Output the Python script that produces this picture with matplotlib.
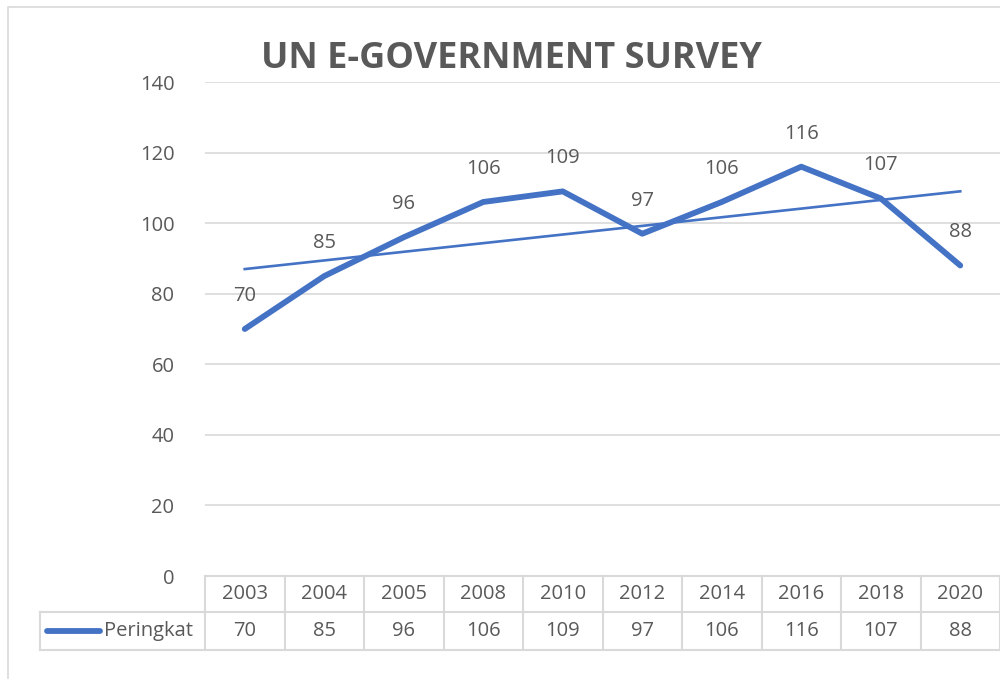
import matplotlib
matplotlib.use("Agg")
import matplotlib.pyplot as plt
import matplotlib.transforms as mtransforms
from matplotlib.patches import Rectangle
from matplotlib.lines import Line2D
import numpy as np

years = ["2003", "2004", "2005", "2008", "2010", "2012", "2014", "2016", "2018", "2020"]
peringkat = [70, 85, 96, 106, 109, 97, 106, 116, 107, 88]
series_name = "Peringkat"
title = "UN E-GOVERNMENT SURVEY"
yticks = [0, 20, 40, 60, 80, 100, 120, 140]

BLUE = "#4472C4"
TXT = "#595959"
GRID = "#D9D9D9"
FS = 14.5

plt.rcParams['font.family'] = ['Open Sans', 'DejaVu Sans']

W, H = 1000, 679
fig = plt.figure(figsize=(W / 100, H / 100), dpi=100)

def fx(px):
    return px / W

def fy(py):
    return 1 - py / H

# chart outer border
fig.patches.append(Rectangle((fx(8), fy(700)), fx(1100) - fx(8), fy(7) - fy(700),
                             transform=fig.transFigure, fill=False, edgecolor=GRID, lw=1.2))

left, right, top, bottom = 205, 1000, 82, 576
ax = fig.add_axes([fx(left), fy(bottom), fx(right) - fx(left), fy(top) - fy(bottom)])
ax.set_xlim(-0.5, len(years) - 0.5)
ax.set_ylim(0, 140)
ax.set_yticks(yticks)
ax.set_xticks([])
ax.grid(axis='y', color=GRID, lw=1.2)
ax.set_axisbelow(True)
for s in ax.spines.values():
    s.set_visible(False)
ax.tick_params(axis='y', length=0, pad=22, labelsize=FS, labelcolor=TXT)

x = np.arange(len(years))
ax.plot(x, peringkat, color=BLUE, lw=4.2, solid_joinstyle='round', solid_capstyle='round', zorder=3)
coef = np.polyfit(x, peringkat, 1)
ax.plot(x, np.polyval(coef, x), color=BLUE, lw=1.9, zorder=2)

for xi, v in zip(x, peringkat):
    ax.annotate(str(v), (xi, v), xytext=(0, 33), textcoords='offset pixels',
                ha='center', va='center', fontsize=FS, color=TXT)

fig.text(fx(511), fy(55), title, ha='center', va='center_baseline', fontsize=26, fontweight='bold', color=TXT)

# data table
trans = mtransforms.blended_transform_factory(ax.transData, fig.transFigure)
ftrans = fig.transFigure
y0, y1, y2 = fy(576), fy(612), fy(650)
xl = fx(40)
fig.add_artist(Line2D([fx(205), fx(1000)], [y0, y0], transform=ftrans, color=GRID, lw=1.5))
fig.add_artist(Line2D([xl, fx(1000)], [y1, y1], transform=ftrans, color=GRID, lw=1.5))
fig.add_artist(Line2D([xl, fx(1000)], [y2, y2], transform=ftrans, color=GRID, lw=1.5))
fig.add_artist(Line2D([xl, xl], [y1, y2], transform=ftrans, color=GRID, lw=1.5))
for b in np.arange(len(years) + 1) - 0.5:
    fig.add_artist(Line2D([b, b], [y0, y2], transform=trans, color=GRID, lw=1.5))
for xi, yr, v in zip(x, years, peringkat):
    fig.text(xi, (y0 + y1) / 2, yr, transform=trans, ha='center', va='center', fontsize=FS, color=TXT)
    fig.text(xi, (y1 + y2) / 2, str(v), transform=trans, ha='center', va='center', fontsize=FS, color=TXT)
# legend key
ym = (y1 + y2) / 2
fig.add_artist(Line2D([fx(47), fx(100)], [ym, ym], transform=ftrans, color=BLUE, lw=4.2,
                      solid_capstyle='round'))
fig.text(fx(104), ym, series_name, transform=ftrans, ha='left', va='center', fontsize=FS, color=TXT)

fig.savefig("out.png", dpi=100)
